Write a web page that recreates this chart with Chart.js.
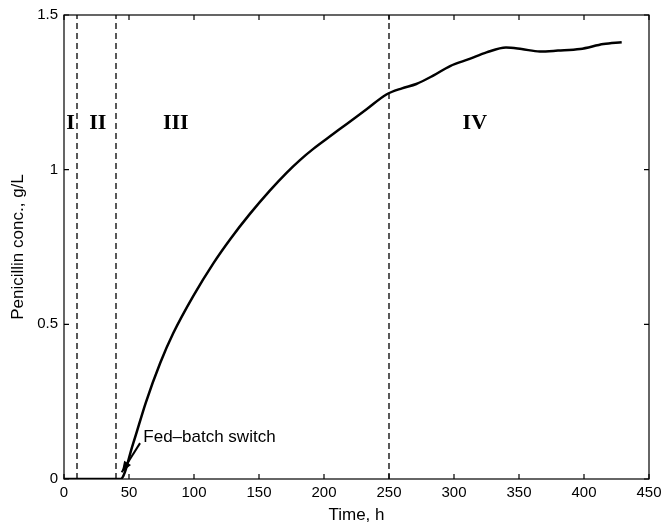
<!DOCTYPE html>
<html>
<head>
<meta charset="utf-8">
<script src="https://cdn.jsdelivr.net/npm/chart.js@4.4.1/dist/chart.umd.min.js"></script>
<style>
  body{margin:0;background:#fff;}
  #wrap{width:668px;height:529px;}
</style>
</head>
<body>
<div id="wrap"><canvas id="myChart" width="668" height="529"></canvas></div>
<script>
// datos
const tiempo = [0, 10, 20, 30, 43.5, 53, 63, 74, 84, 99.5, 115, 128, 143, 158.5, 171, 181.5, 192, 207, 217.5, 233, 248, 260, 271, 284, 297, 312, 325, 340, 352, 366, 380, 397, 415, 429]
const penicilina = [0, 0, 0, 0, 0, 0.112, 0.248, 0.375, 0.471, 0.592, 0.698, 0.776, 0.857, 0.933, 0.989, 1.031, 1.068, 1.115, 1.148, 1.196, 1.243, 1.263, 1.277, 1.304, 1.335, 1.358, 1.379, 1.395, 1.39, 1.382, 1.385, 1.39, 1.406, 1.412]

const fases = [10, 40, 250]          // lineas punteadas (h)
const fasesTexto = ['I', 'II', 'III', 'IV']
const fasesTextoX = [5, 26, 86, 316]
const fasesTextoY = 1.15

const xTicks = [0, 50, 100, 150, 200, 250, 300, 350, 400, 450]
const yTicks = [0, 0.5, 1, 1.5]
const yTickLabels = ['0', '0.5', '1', '1.5']

const notaTexto = 'Fed\u2013batch switch'
const notaPos = [61, 0.135]
const flechaDesde = [58.5, 0.116]
const flechaHasta = [44.4, 0.022]

const ctx = document.getElementById('myChart')

const datasets = [{
  data: tiempo.map((t, i) => ({x: t, y: penicilina[i]})),
  borderColor: '#000', borderWidth: 2.5, pointRadius: 0,
  cubicInterpolationMode: 'monotone', fill: false
}]
fases.forEach(f => {
  datasets.push({
    data: [{x: f, y: 0}, {x: f, y: 1.5}],
    borderColor: '#000', borderWidth: 1.3, borderDash: [6, 4], pointRadius: 0, fill: false
  })
})

const decoracion = {
  id: 'decoracion',
  beforeDraw(chart) {
    const c = chart.ctx
    c.save(); c.fillStyle = '#fff'; c.fillRect(0, 0, chart.width, chart.height); c.restore()
  },
  afterDraw(chart) {
    const c = chart.ctx
    const a = chart.chartArea
    const sx = chart.scales.x, sy = chart.scales.y
    c.save()
    // caja
    c.strokeStyle = '#000'; c.lineWidth = 1.2
    c.strokeRect(a.left, a.top, a.right - a.left, a.bottom - a.top)
    // ticks hacia dentro
    const L = 5
    c.beginPath()
    xTicks.forEach(v => {
      const px = sx.getPixelForValue(v)
      c.moveTo(px, a.bottom); c.lineTo(px, a.bottom - L)
      c.moveTo(px, a.top); c.lineTo(px, a.top + L)
    })
    yTicks.forEach(v => {
      const py = sy.getPixelForValue(v)
      c.moveTo(a.left, py); c.lineTo(a.left + L, py)
      c.moveTo(a.right, py); c.lineTo(a.right - L, py)
    })
    c.stroke()
    // numeros romanos
    c.fillStyle = '#000'
    c.font = 'bold 22px "Liberation Serif", "Times New Roman", serif'
    c.textAlign = 'center'; c.textBaseline = 'middle'
    fasesTexto.forEach((t, i) => {
      c.fillText(t, sx.getPixelForValue(fasesTextoX[i]), sy.getPixelForValue(fasesTextoY))
    })
    // nota y flecha
    c.font = '17px "Liberation Sans", Arial, sans-serif'
    c.textAlign = 'left'
    c.fillText(notaTexto, sx.getPixelForValue(notaPos[0]), sy.getPixelForValue(notaPos[1]))
    const x1 = sx.getPixelForValue(flechaDesde[0]), y1 = sy.getPixelForValue(flechaDesde[1])
    const x2 = sx.getPixelForValue(flechaHasta[0]), y2 = sy.getPixelForValue(flechaHasta[1])
    c.lineWidth = 2
    c.beginPath(); c.moveTo(x1, y1); c.lineTo(x2, y2); c.stroke()
    const ang = Math.atan2(y2 - y1, x2 - x1)
    const hl = 11, hw = 4
    c.beginPath()
    c.moveTo(x2, y2)
    c.lineTo(x2 - hl * Math.cos(ang) + hw * Math.sin(ang), y2 - hl * Math.sin(ang) - hw * Math.cos(ang))
    c.lineTo(x2 - hl * Math.cos(ang) - hw * Math.sin(ang), y2 - hl * Math.sin(ang) + hw * Math.cos(ang))
    c.closePath(); c.fill()
    c.restore()
  }
}

const fuenteTicks = {family: '"Liberation Sans Narrow", "Liberation Sans", Arial, sans-serif', size: 15}
const fuenteTitulo = {family: '"Liberation Sans", Arial, sans-serif', size: 17}

const myChart = new Chart(ctx, {
  type: 'line',
  data: {datasets: datasets},
  options: {
    responsive: false, animation: false,
    layout: {padding: {top: 12, right: 19, left: 0, bottom: 0}},
    plugins: {legend: {display: false}, tooltip: {enabled: false}},
    scales: {
      x: {
        type: 'linear', min: 0, max: 450,
        afterBuildTicks: s => { s.ticks = xTicks.map(v => ({value: v})) },
        afterFit: s => { s.height = 50 },
        grid: {display: false, drawTicks: false}, border: {display: false},
        ticks: {color: '#000', font: fuenteTicks, padding: 5, maxRotation: 0, autoSkip: false},
        title: {display: true, text: 'Time, h', color: '#000', font: fuenteTitulo, padding: {top: 0, bottom: 3}}
      },
      y: {
        type: 'linear', min: 0, max: 1.5,
        afterBuildTicks: s => { s.ticks = yTicks.map(v => ({value: v})) },
        afterFit: s => { s.width = 64 },
        grid: {display: false, drawTicks: false}, border: {display: false},
        ticks: {color: '#000', font: fuenteTicks, padding: 6, autoSkip: false,
          callback: (v) => yTickLabels[yTicks.indexOf(v)]},
        title: {display: true, text: 'Penicillin conc., g/L', color: '#000', font: fuenteTitulo, padding: {top: 8, bottom: 0}}
      }
    }
  },
  plugins: [decoracion]
})
</script>
</body>
</html>
